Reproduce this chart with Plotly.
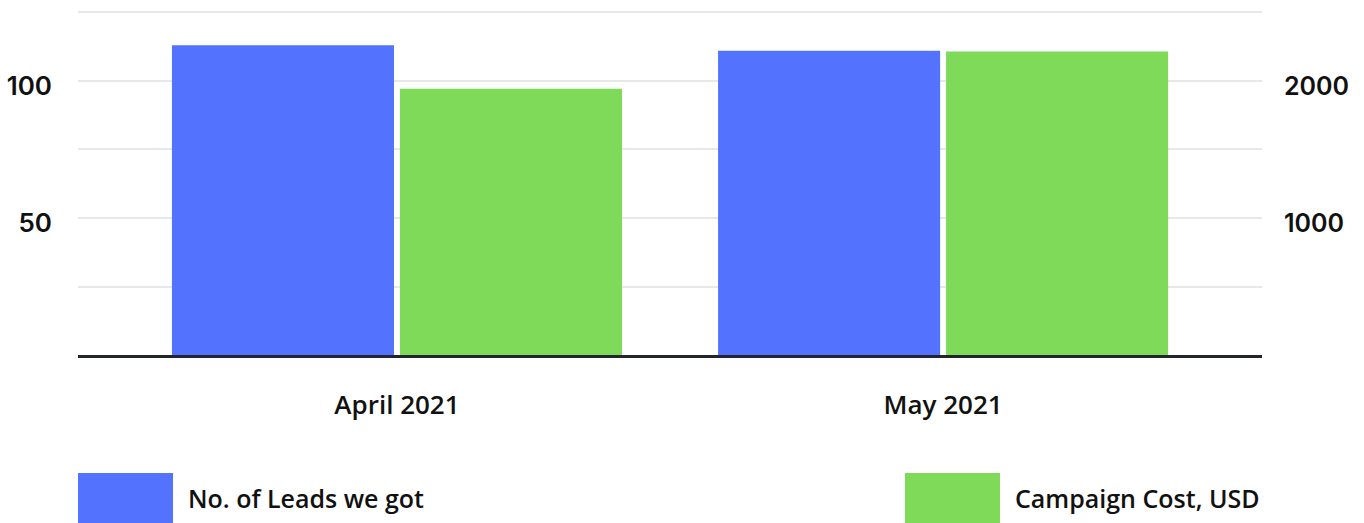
import plotly.graph_objects as go

categories = ["April 2021", "May 2021"]
leads = [113, 111]
cost = [1943, 2215]
series_names = ["No. of Leads we got", "Campaign Cost, USD"]
left_ticks = [0, 25, 50, 75, 100, 125]
left_ticktext = ["", "", "50", "", "100", ""]
right_ticks = [1000, 2000]
right_ticktext = ["1000", "2000"]

BLUE = "#5373FE"
GREEN = "#7FDA5A"
TXT = "#111111"
LABEL_FONT = "Open Sans"
NUM_FONT = "Inter"

fig = go.Figure()
fig.add_trace(go.Bar(x=categories, y=leads, name=series_names[0], marker_color=BLUE,
                     marker_line_width=0, width=0.4066, offset=-0.412, yaxis="y"))
fig.add_trace(go.Bar(x=categories, y=cost, name=series_names[1], marker_color=GREEN,
                     marker_line_width=0, width=0.4066, offset=0.0055, yaxis="y2"))

fig.update_layout(
    width=1364, height=523,
    margin=dict(l=78, r=102, t=7, b=168),
    paper_bgcolor="white", plot_bgcolor="white",
    showlegend=False,
    xaxis=dict(range=[-0.584, 1.584], showgrid=False, showline=True, linewidth=3,
               linecolor="#22252e", ticks="", ticklabelstandoff=25,
               tickfont=dict(family=LABEL_FONT, size=26, color=TXT, weight=600)),
    yaxis=dict(range=[0, 127], tickvals=left_ticks, ticktext=left_ticktext,
               showgrid=True, gridcolor="#e8e8e8", gridwidth=2, zeroline=False,
               ticks="", ticklabelstandoff=25, ticklabelshift=5,
               tickfont=dict(family=NUM_FONT, size=26, color=TXT, weight=600)),
    yaxis2=dict(range=[0, 2540], overlaying="y", side="right", tickvals=right_ticks,
                ticktext=right_ticktext, showgrid=False, zeroline=False, ticks="",
                ticklabelstandoff=21, ticklabelshift=5,
                tickfont=dict(family=NUM_FONT, size=25, color=TXT, weight=600)),
)

# Legend (custom large swatches below plot)
legend_items = [(0, BLUE, series_names[0]), (827, GREEN, series_names[1])]
for xpix, col, name in legend_items:
    fig.add_shape(type="rect", xref="paper", yref="paper", xsizemode="pixel",
                  ysizemode="pixel", xanchor=0, yanchor=0, x0=xpix, x1=xpix + 95,
                  y0=-118, y1=-175, fillcolor=col, line_width=0)
    fig.add_annotation(x=0, y=0, xref="paper", yref="paper", xanchor="left",
                       yanchor="middle", xshift=xpix + 108, yshift=-143, text=name,
                       showarrow=False,
                       font=dict(family=LABEL_FONT, size=25, color=TXT, weight=600))

fig.write_html("out.html", config={"displayModeBar": False},
               post_script="document.body.style.margin='0';")
